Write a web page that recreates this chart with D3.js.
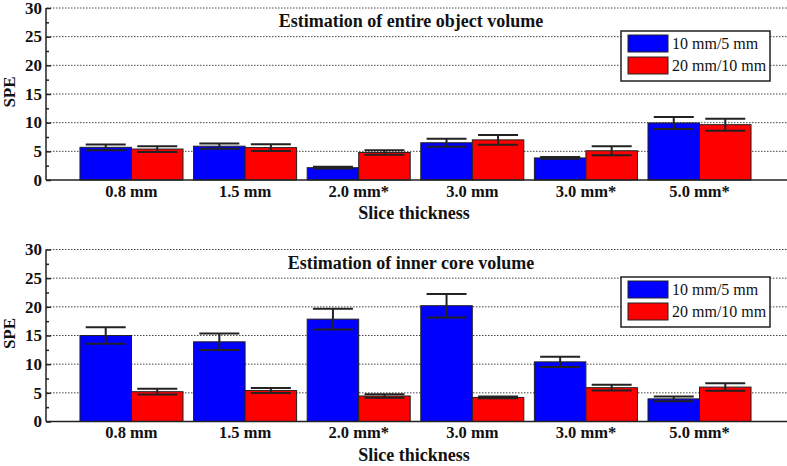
<!DOCTYPE html>
<html lang="en">
<head>
    <meta charset="utf-8">
    <title>SPE by slice thickness</title>
    <script src="https://cdn.jsdelivr.net/npm/d3@7"></script>
    <style type="text/css">
        body { margin: 0; background: #fff; }
        svg text { font-family: "Liberation Serif", "Times New Roman", Times, serif; fill: #111; }
        .grid line { stroke: #444; stroke-width: 1; stroke-dasharray: 1.5 1.5; }
        .axis path, .axis line { stroke: #222; stroke-width: 1.5; fill: none; }
        .err { stroke: #222; stroke-width: 2; }
    </style>
</head>
<body>
<svg></svg>
<script type="text/javascript">
    var categories = ['0.8 mm', '1.5 mm', '2.0 mm*', '3.0 mm', '3.0 mm*', '5.0 mm*'];
    var seriesNames = ['10 mm/5 mm', '20 mm/10 mm'];
    var seriesColors = ['#0000ff', '#ff0000'];
    var yTicks = [0, 5, 10, 15, 20, 25, 30];

    // entire object volume
    var entireBlue = [5.7, 5.9, 2.15, 6.5, 3.85, 9.95];
    var entireBlueErr = [0.5, 0.45, 0.15, 0.7, 0.15, 1.05];
    var entireRed = [5.4, 5.65, 4.8, 7.0, 5.1, 9.65];
    var entireRedErr = [0.5, 0.6, 0.4, 0.85, 0.8, 1.05];

    // inner core volume
    var coreBlue = [15.0, 13.9, 17.85, 20.2, 10.4, 3.95];
    var coreBlueErr = [1.45, 1.45, 1.8, 2.05, 0.9, 0.4];
    var coreRed = [5.2, 5.4, 4.45, 4.2, 5.9, 6.0];
    var coreRedErr = [0.5, 0.45, 0.3, 0.15, 0.5, 0.65];

    var width = 787, height = 466;
    var svg = d3.select('svg').attr('width', width).attr('height', height);

    var xScale = d3.scaleBand()
        .domain(categories)
        .range([69.4, 761.6])
        .padding(0.093);

    var xSub = d3.scaleBand()
        .domain([0, 1])
        .range([0, xScale.bandwidth()]);

    function drawPanel(top, title, vals, errs, legendTop) {
        var yScale = d3.scaleLinear().domain([0, 30]).range([top + 172, top]);
        var g = svg.append('g');

        // dotted grid
        g.append('g').attr('class', 'grid')
            .selectAll('line').data(yTicks.slice(1)).enter().append('line')
            .attr('x1', 47).attr('x2', width)
            .attr('y1', function (d) { return yScale(d); })
            .attr('y2', function (d) { return yScale(d); });

        // title
        g.append('text')
            .attr('x', 411).attr('y', top + 19)
            .attr('text-anchor', 'middle')
            .style('font-size', '18px').style('font-weight', 'bold')
            .text(title);

        // bars
        var rows = [];
        categories.forEach(function (c, i) {
            for (var s = 0; s < 2; s++) {
                rows.push({cat: c, s: s, v: vals[s][i], e: errs[s][i]});
            }
        });

        g.selectAll('rect.bar').data(rows).enter().append('rect')
            .attr('class', 'bar')
            .attr('x', function (d) { return xScale(d.cat) + xSub(d.s); })
            .attr('width', xSub.bandwidth())
            .attr('y', function (d) { return yScale(d.v); })
            .attr('height', function (d) { return yScale(0) - yScale(d.v); })
            .attr('fill', function (d) { return seriesColors[d.s]; })
            .attr('stroke', '#222')
            .attr('stroke-width', 1);

        // error bars
        var cap = 20;
        var eb = g.selectAll('g.eb').data(rows).enter().append('g').attr('class', 'err');
        function cx(d) { return xScale(d.cat) + xSub(d.s) + xSub.bandwidth() / 2; }
        eb.append('line')
            .attr('x1', cx).attr('x2', cx)
            .attr('y1', function (d) { return yScale(d.v + d.e); })
            .attr('y2', function (d) { return yScale(d.v - d.e); });
        eb.append('line')
            .attr('x1', function (d) { return cx(d) - cap; })
            .attr('x2', function (d) { return cx(d) + cap; })
            .attr('y1', function (d) { return yScale(d.v + d.e); })
            .attr('y2', function (d) { return yScale(d.v + d.e); });
        eb.append('line')
            .attr('x1', function (d) { return cx(d) - cap; })
            .attr('x2', function (d) { return cx(d) + cap; })
            .attr('y1', function (d) { return yScale(d.v - d.e); })
            .attr('y2', function (d) { return yScale(d.v - d.e); });

        // y axis with minor ticks
        var yAxis = g.append('g').attr('class', 'axis')
            .attr('transform', 'translate(46,0)')
            .call(d3.axisRight(yScale).tickValues(yTicks).tickSize(5).tickFormat(''));
        yAxis.select('.domain').attr('d', 'M0,' + yScale(30) + 'V' + yScale(0));
        g.append('g').attr('class', 'axis')
            .attr('transform', 'translate(46,0)')
            .call(d3.axisRight(yScale).tickValues(d3.range(2.5, 30, 5)).tickSize(3).tickFormat(''))
            .select('.domain').remove();

        g.selectAll('text.ylab').data(yTicks).enter().append('text')
            .attr('class', 'ylab')
            .attr('x', 42).attr('y', function (d) { return yScale(d); })
            .attr('dy', '0.34em')
            .attr('text-anchor', 'end')
            .style('font-size', '17px').style('font-weight', 'bold')
            .text(function (d) { return d; });

        // x axis
        var xAxis = g.append('g').attr('class', 'axis')
            .attr('transform', 'translate(0,' + yScale(0) + ')')
            .call(d3.axisBottom(xScale).tickSize(0).tickPadding(5));
        xAxis.select('.domain').attr('d', 'M46,0H' + width);
        xAxis.selectAll('text')
            .style('font-size', '16.5px').style('font-weight', 'bold');

        g.append('text')
            .attr('x', 414).attr('y', top + 211)
            .attr('text-anchor', 'middle')
            .style('font-size', '18px').style('font-weight', 'bold')
            .text('Slice thickness');

        g.append('text')
            .attr('transform', 'translate(15,' + (top + 84) + ') rotate(-90)')
            .attr('text-anchor', 'middle')
            .style('font-size', '17px').style('font-weight', 'bold')
            .text('SPE');

        // legend
        var lg = g.append('g').attr('transform', 'translate(621,' + legendTop + ')');
        lg.append('rect').attr('width', 149).attr('height', 50)
            .attr('fill', '#fff').attr('stroke', '#222').attr('stroke-width', 1.5);
        seriesNames.forEach(function (name, i) {
            lg.append('rect')
                .attr('x', 7).attr('y', 4 + i * 22)
                .attr('width', 40).attr('height', 17)
                .attr('fill', seriesColors[i]).attr('stroke', '#222');
            lg.append('text')
                .attr('x', 51).attr('y', 18 + i * 22)
                .style('font-size', '16px')
                .text(name);
        });
    }

    drawPanel(8, 'Estimation of entire object volume',
        [entireBlue, entireRed], [entireBlueErr, entireRedErr], 31);
    drawPanel(249.5, 'Estimation of inner core volume',
        [coreBlue, coreRed], [coreBlueErr, coreRedErr], 277);
</script>
</body>
</html>
